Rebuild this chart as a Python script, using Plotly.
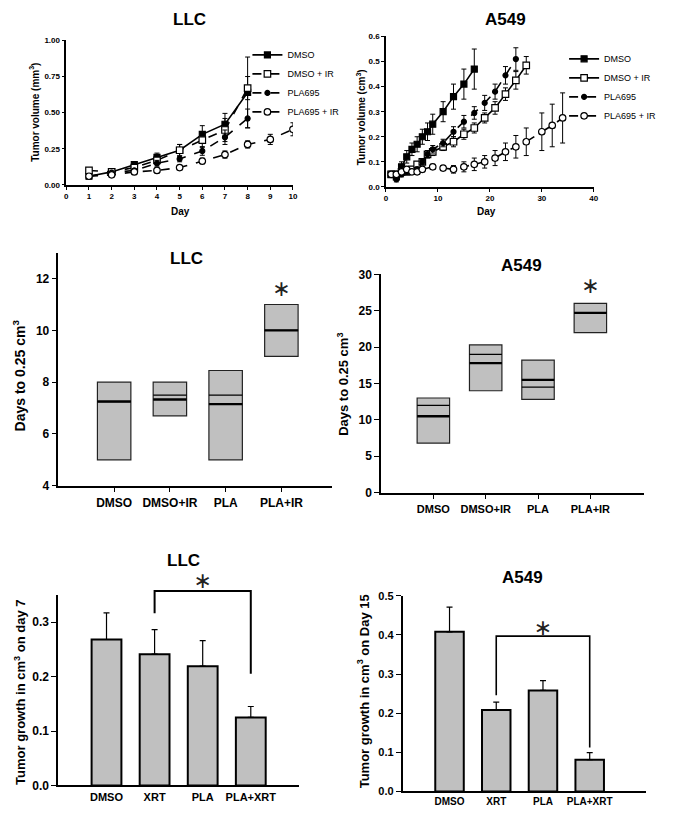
import plotly.graph_objects as go

W, H = 674, 821
FONT = "Arial, 'Liberation Sans', sans-serif"

# ---------------- data: LLC tumor volume (top left) ----------------
llc_days = [1, 2, 3, 4, 5, 6, 7, 8]
llc_dmso = [0.06, 0.09, 0.14, 0.19, 0.24, 0.35, 0.42, 0.64]
llc_dmso_err = [0.01, 0.01, 0.015, 0.03, 0.04, 0.06, 0.075, 0.245]
llc_dmso_ir = [0.10, 0.09, 0.12, 0.17, 0.24, 0.31, 0.38, 0.67]
llc_dmso_ir_err = [0.01, 0.01, 0.015, 0.025, 0.04, 0.05, 0.08, 0.08]
llc_pla = [0.06, 0.085, 0.10, 0.15, 0.18, 0.235, 0.33, 0.46]
llc_pla_err = [0.01, 0.01, 0.01, 0.02, 0.02, 0.03, 0.05, 0.065]
llc_days_pla_ir = [1, 2, 3, 4, 5, 6, 7, 8, 9, 10]
llc_pla_ir = [0.06, 0.07, 0.09, 0.10, 0.12, 0.165, 0.21, 0.28, 0.315, 0.385]
llc_pla_ir_err = [0.01, 0.01, 0.01, 0.01, 0.015, 0.02, 0.025, 0.025, 0.035, 0.045]

# ---------------- data: A549 tumor volume (top right) ----------------
a_days_dmso = [1, 2, 3, 4, 5, 6, 7, 8, 9, 11, 13, 15, 17]
a_dmso = [0.05, 0.04, 0.08, 0.12, 0.15, 0.17, 0.20, 0.22, 0.25, 0.30, 0.36, 0.41, 0.47]
a_dmso_err = [0.01, 0.01, 0.02, 0.025, 0.025, 0.03, 0.03, 0.035, 0.04, 0.04, 0.05, 0.06, 0.08]
a_days_dmso_ir = [1, 2, 3, 4, 5, 6, 7, 8, 9, 11, 13, 15, 17, 19, 21, 23, 25, 27]
a_dmso_ir = [0.05, 0.05, 0.06, 0.06, 0.07, 0.09, 0.10, 0.13, 0.14, 0.16, 0.18, 0.21,
             0.235, 0.275, 0.315, 0.37, 0.425, 0.485]
a_dmso_ir_err = [0.01, 0.01, 0.01, 0.01, 0.01, 0.01, 0.01, 0.01, 0.015, 0.015, 0.02, 0.02,
                 0.02, 0.02, 0.025, 0.025, 0.035, 0.035]
a_days_pla = [1, 2, 3, 4, 5, 6, 7, 8, 9, 11, 13, 15, 17, 19, 21, 23, 25]
a_pla = [0.05, 0.03, 0.05, 0.06, 0.06, 0.07, 0.10, 0.13, 0.15, 0.175, 0.22, 0.26,
         0.295, 0.335, 0.38, 0.445, 0.51]
a_pla_err = [0.01, 0.01, 0.01, 0.01, 0.01, 0.01, 0.01, 0.015, 0.015, 0.015, 0.02, 0.025,
             0.025, 0.03, 0.03, 0.035, 0.045]
a_days_pla_ir = [1, 2, 3, 4, 5, 6, 7, 9, 11, 13, 15, 17, 19, 21, 23, 25, 27, 30, 32, 34]
a_pla_ir = [0.05, 0.05, 0.06, 0.07, 0.06, 0.06, 0.07, 0.08, 0.075, 0.07, 0.08, 0.09,
            0.10, 0.115, 0.14, 0.16, 0.18, 0.22, 0.245, 0.275]
a_pla_ir_err = [0.01, 0.01, 0.01, 0.01, 0.01, 0.01, 0.01, 0.01, 0.01, 0.015, 0.02, 0.025,
                0.025, 0.03, 0.035, 0.045, 0.055, 0.075, 0.085, 0.10]

# ---------------- data: days to 0.25 cm3 (middle) ----------------
box_groups = ["DMSO", "DMSO+IR", "PLA", "PLA+IR"]
llc_box_low = [5.0, 6.7, 5.0, 9.0]
llc_box_high = [8.0, 8.0, 8.45, 11.0]
llc_box_median = [7.25, 7.33, 7.15, 10.0]
llc_box_mean = [7.25, 7.5, 7.5, 10.0]
a_box_low = [6.8, 14.0, 12.8, 22.0]
a_box_high = [13.0, 20.3, 18.2, 26.0]
a_box_median = [10.5, 17.8, 15.5, 24.7]
a_box_mean = [12.0, 19.0, 14.5, 24.7]

# ---------------- data: tumor growth bars (bottom) ----------------
bar_groups = ["DMSO", "XRT", "PLA", "PLA+XRT"]
llc_growth = [0.268, 0.241, 0.219, 0.125]
llc_growth_err = [0.049, 0.045, 0.047, 0.02]
a_growth = [0.408, 0.208, 0.258, 0.081]
a_growth_err = [0.063, 0.02, 0.025, 0.018]

# significance marks
llc_box_star = 11.55
a_box_star = 28.2
llc_bracket = [0.316, 0.357, 0.357, 0.205]
a_bracket = [0.246, 0.397, 0.397, 0.112]
llc_bar_star = 0.372
a_bar_star = 0.415

pos = [1, 2, 3, 4]
GRAY = "#c0c0c0"

fig = go.Figure()


def line_trace(x, y, err, name, fill, symbol, size, dash, xa, ya, legend):
    return go.Scatter(
        x=x, y=y, name=name, mode="lines+markers", xaxis=xa, yaxis=ya, legend=legend,
        line=dict(color="black", width=1.6, dash=dash),
        marker=dict(symbol=symbol, size=size, color=fill, line=dict(color="black", width=1.2)),
        error_y=dict(type="data", array=err, color="black", thickness=1, width=2.5),
    )


# top-left LLC
fig.add_trace(line_trace(llc_days, llc_dmso, llc_dmso_err, "DMSO", "black", "square", 6, "solid", "x", "y", "legend"))
fig.add_trace(line_trace(llc_days, llc_dmso_ir, llc_dmso_ir_err, "DMSO + IR", "white", "square", 6.5, "dash", "x", "y", "legend"))
fig.add_trace(line_trace(llc_days, llc_pla, llc_pla_err, "PLA695", "black", "circle", 5, "dash", "x", "y", "legend"))
fig.add_trace(line_trace(llc_days_pla_ir, llc_pla_ir, llc_pla_ir_err, "PLA695 + IR", "white", "circle", 6.5, "dash", "x", "y", "legend"))

# top-right A549
fig.add_trace(line_trace(a_days_dmso, a_dmso, a_dmso_err, "DMSO", "black", "square", 6, "solid", "x2", "y2", "legend2"))
fig.add_trace(line_trace(a_days_dmso_ir, a_dmso_ir, a_dmso_ir_err, "DMSO + IR", "white", "square", 6.5, "solid", "x2", "y2", "legend2"))
fig.add_trace(line_trace(a_days_pla, a_pla, a_pla_err, "PLA695", "black", "circle", 5, "dash", "x2", "y2", "legend2"))
fig.add_trace(line_trace(a_days_pla_ir, a_pla_ir, a_pla_ir_err, "PLA695 + IR", "white", "circle", 6.5, "dash", "x2", "y2", "legend2"))


# middle: floating boxes with median (thick) and mean (thin) lines
def box_panel(low, high, median, mean, xa, ya, width):
    fig.add_trace(go.Bar(
        x=pos, y=[h - l for h, l in zip(high, low)], base=low, width=width,
        xaxis=xa, yaxis=ya, showlegend=False,
        marker=dict(color=GRAY, line=dict(color="#222222", width=1.2)),
    ))
    for vals, lw in ((mean, 1.2), (median, 2.4)):
        xs, ys = [], []
        for p, v in zip(pos, vals):
            xs += [p - width / 2, p + width / 2, None]
            ys += [v, v, None]
        fig.add_trace(go.Scatter(x=xs, y=ys, mode="lines", xaxis=xa, yaxis=ya,
                                 showlegend=False, line=dict(color="black", width=lw)))


box_panel(llc_box_low, llc_box_high, llc_box_median, llc_box_mean, "x3", "y3", 0.6)
box_panel(a_box_low, a_box_high, a_box_median, a_box_mean, "x4", "y4", 0.62)


# bottom: bars with upper error bars
def bar_panel(vals, errs, xa, ya, width):
    fig.add_trace(go.Bar(
        x=pos, y=vals, width=width, xaxis=xa, yaxis=ya, showlegend=False,
        marker=dict(color=GRAY, line=dict(color="black", width=2)),
        error_y=dict(type="data", symmetric=False, array=errs, arrayminus=[0] * len(errs),
                     color="black", thickness=1.2, width=3),
    ))


bar_panel(llc_growth, llc_growth_err, "x5", "y5", 0.62)
bar_panel(a_growth, a_growth_err, "x6", "y6", 0.61)

# significance brackets (XRT vs PLA+XRT); LLC one is drawn on an invisible
# twin axis (x7/y7) with the same scale as x5/y5 but a taller plotting area
for xa, ya, ys, lw in (("x7", "y7", llc_bracket, 2), ("x6", "y6", a_bracket, 1.6)):
    fig.add_trace(go.Scatter(x=[pos[1], pos[1], pos[3], pos[3]], y=ys, mode="lines",
                             xaxis=xa, yaxis=ya, showlegend=False, cliponaxis=False,
                             line=dict(color="black", width=lw)))

# asterisks
for xa, ya, xv, yv in (("x3", "y3", pos[3], llc_box_star), ("x4", "y4", pos[3], a_box_star),
                       ("x7", "y7", pos[2], llc_bar_star), ("x6", "y6", pos[2], a_bar_star)):
    fig.add_trace(go.Scatter(x=[xv], y=[yv], mode="text", text=["\u2217"], xaxis=xa, yaxis=ya,
                             showlegend=False, cliponaxis=False, textposition="middle center",
                             textfont=dict(family="DejaVu Sans", size=22, color="#222222")))


def dx(a, b):
    return [a / W, b / W]


def dy(top, bottom):
    return [1 - bottom / H, 1 - top / H]


def ax(domain, rng, anchor, size, ticklen=4, lw=1.5, **kw):
    d = dict(domain=domain, range=rng, anchor=anchor, showline=True, linecolor="black",
             linewidth=lw, ticks="outside", ticklen=ticklen, tickwidth=1.2, tickcolor="black",
             showgrid=False, zeroline=False, fixedrange=True,
             tickfont=dict(family=FONT, size=size, color="black", weight="bold"))
    d.update(kw)
    return d


# panel 5 geometry and its taller invisible twin
p5_top, p5_bot, p5_max = 598, 792, 0.35
p7_top = 560
p7_max = p5_max * (p5_bot - p7_top) / (p5_bot - p5_top)

fig.update_layout(
    width=W, height=H, margin=dict(l=0, r=0, t=0, b=0),
    paper_bgcolor="white", plot_bgcolor="rgba(0,0,0,0)", barmode="overlay",
    font=dict(family=FONT, color="black"),
    xaxis=ax(dx(65, 294), [0, 10], "y", 8, ticklen=3, dtick=1),
    yaxis=ax(dy(34, 181), [0, 1], "x", 8, ticklen=3, dtick=0.25, tickformat=".2f"),
    xaxis2=ax(dx(388, 598), [0, 40], "y2", 8, ticklen=3, dtick=10),
    yaxis2=ax(dy(30, 183), [0, 0.6], "x2", 8, ticklen=3, dtick=0.1, tickformat=".1f"),
    xaxis3=ax(dx(57, 333), [0, 4.9], "y3", 12, ticklen=5, tickvals=pos, ticktext=box_groups),
    yaxis3=ax(dy(250, 487), [4, 13], "x3", 12, ticklen=5, tickvals=[4, 6, 8, 10, 12]),
    xaxis4=ax(dx(383, 649), [0, 5.03], "y4", 11, ticklen=5, tickvals=pos, ticktext=box_groups),
    yaxis4=ax(dy(272, 494), [0, 30], "x4", 12, ticklen=5, dtick=5),
    xaxis5=ax(dx(57, 300), [0, 5], "y5", 11, ticks="", tickvals=pos, ticktext=bar_groups, lw=2),
    yaxis5=ax(dy(p5_top, p5_bot), [0, p5_max], "x5", 12, ticklen=5, tickvals=[0, 0.1, 0.2, 0.3],
              tickformat=".1f", lw=2),
    xaxis6=ax(dx(405, 651), [0, 5.21], "y6", 10, ticks="", tickvals=pos, ticktext=bar_groups, lw=2),
    yaxis6=ax(dy(599, 798), [0, 0.5], "x6", 11, ticklen=5, dtick=0.1, tickformat=".1f", lw=2),
    xaxis7=dict(domain=dx(57, 300), range=[0, 5], anchor="y7", visible=False, fixedrange=True),
    yaxis7=dict(domain=dy(p7_top, p5_bot), range=[0, p7_max], anchor="x7", visible=False,
                fixedrange=True),
    legend=dict(x=248 / W, y=1 - 34 / H, xanchor="left", yanchor="top", bgcolor="rgba(0,0,0,0)",
                font=dict(family=FONT, size=9, color="black"), tracegroupgap=0, itemwidth=30),
    legend2=dict(x=568 / W, y=1 - 38 / H, xanchor="left", yanchor="top", bgcolor="rgba(0,0,0,0)",
                 font=dict(family=FONT, size=9, color="black"), tracegroupgap=0, itemwidth=30),
)

ann = []


def text(x, y, s, size, angle=0):
    ann.append(dict(xref="paper", yref="paper", x=x / W, y=1 - y / H, text=s, showarrow=False,
                    textangle=angle, xanchor="center", yanchor="middle",
                    font=dict(family=FONT, size=size, color="black", weight="bold")))


# panel titles
text(189, 13, "LLC", 17)
text(509, 13, "A549", 17)
text(186, 256, "LLC", 17)
text(525, 263, "A549", 17)
text(183, 563, "LLC", 17)
text(526, 580, "A549", 17)
# axis titles
text(33, 107, "Tumor volume (mm<sup>3</sup>)", 10, -90)
text(180, 208, "Day", 10)
text(363, 112, "Tumor volume (cm<sup>3</sup>)", 10, -90)
text(490, 208, "Day", 10)
text(17, 375, "Days to 0.25 cm<sup>3</sup>", 14, -90)
text(345, 384, "Days to 0.25 cm<sup>3</sup>", 13, -90)
text(18, 697, "Tumor growth in cm<sup>3</sup> on day 7", 13, -90)
text(365, 696, "Tumor growth in cm<sup>3</sup> on Day 15", 13, -90)

fig.update_layout(annotations=ann)
fig.write_html("out.html", config={"displayModeBar": False},
               post_script="document.body.style.margin='0px';")
